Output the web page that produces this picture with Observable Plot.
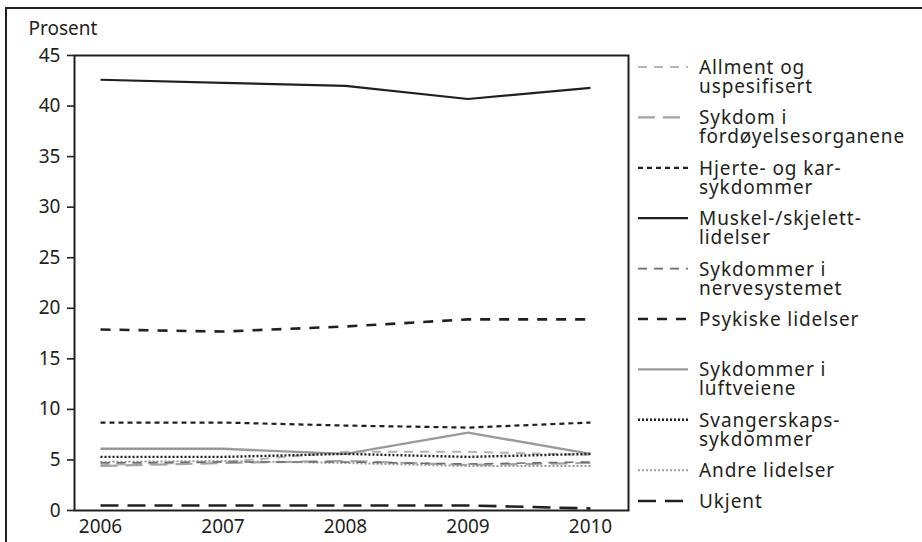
<!DOCTYPE html>
<html><head><meta charset="utf-8">
<script src="https://cdn.jsdelivr.net/npm/d3@7"></script>
<script src="https://cdn.jsdelivr.net/npm/@observablehq/plot@0.6"></script>
<style>
body{margin:0;background:#fff;}
#wrap{position:relative;width:922px;height:542px;overflow:hidden;font-family:"Noto Sans",sans-serif;}
#wrap svg{position:absolute;left:0;top:0;}
</style></head><body><div id="wrap"></div>
<script>
const years = [2006, 2007, 2008, 2009, 2010];
const yTicks = [0, 5, 10, 15, 20, 25, 30, 35, 40, 45];
const seriesNames = [
  "Allment og uspesifisert",
  "Sykdom i fordøyelsesorganene",
  "Hjerte- og kar-sykdommer",
  "Muskel-/skjelett-lidelser",
  "Sykdommer i nervesystemet",
  "Psykiske lidelser",
  "Sykdommer i luftveiene",
  "Svangerskaps-sykdommer",
  "Andre lidelser",
  "Ukjent"
];
const legendLabels = [
  ["Allment og", "uspesifisert"],
  ["Sykdom i", "fordøyelsesorganene"],
  ["Hjerte- og kar-", "sykdommer"],
  ["Muskel-/skjelett-", "lidelser"],
  ["Sykdommer i", "nervesystemet"],
  ["Psykiske lidelser"],
  ["Sykdommer i", "luftveiene"],
  ["Svangerskaps-", "sykdommer"],
  ["Andre lidelser"],
  ["Ukjent"]
];
const allment      = [4.5, 4.8, 5.8, 5.8, 5.5];
const fordoyelse   = [4.4, 4.7, 4.9, 4.5, 4.7];
const hjerte       = [8.7, 8.7, 8.4, 8.2, 8.7];
const muskel       = [42.6, 42.3, 42.0, 40.7, 41.8];
const nerve        = [4.7, 4.8, 4.8, 4.6, 4.8];
const psykiske     = [17.9, 17.7, 18.2, 18.9, 18.9];
const luftveiene   = [6.1, 6.1, 5.6, 7.7, 5.6];
const svangerskap  = [5.3, 5.3, 5.6, 5.3, 5.6];
const andre        = [4.8, 4.9, 4.7, 4.4, 4.4];
const ukjent       = [0.5, 0.5, 0.5, 0.5, 0.2];
const allValues = [allment, fordoyelse, hjerte, muskel, nerve, psykiske, luftveiene, svangerskap, andre, ukjent];

const INK = "#231f20";
const FS = 19;
const styles = [
  {stroke: "#b3b3b3", strokeWidth: 2, dash: "9,7"},
  {stroke: "#a3a3a3", strokeWidth: 2.2, dash: "17,8"},
  {stroke: INK, strokeWidth: 2.2, dash: "5,4"},
  {stroke: INK, strokeWidth: 2.2, dash: null},
  {stroke: "#6d6d6d", strokeWidth: 1.6, dash: "9,7"},
  {stroke: INK, strokeWidth: 2.6, dash: "10,9"},
  {stroke: "#9a9a9a", strokeWidth: 2.4, dash: null},
  {stroke: INK, strokeWidth: 2.4, dash: "2,2"},
  {stroke: "#9a9a9a", strokeWidth: 2, dash: "2,2"},
  {stroke: INK, strokeWidth: 2.6, dash: "18,9"}
];

const data = [];
seriesNames.forEach((name, i) => years.forEach((yr, j) => data.push({series: name, year: yr, value: allValues[i][j]})));

const drawOrder = [8, 0, 1, 4, 6, 7, 2, 5, 9, 3];
const lineMarks = drawOrder.map(i => Plot.line(data.filter(d => d.series === seriesNames[i]), {
  x: "year", y: "value",
  stroke: styles[i].stroke, strokeWidth: styles[i].strokeWidth,
  strokeDasharray: styles[i].dash, strokeLinecap: "butt", strokeLinejoin: "round"
}));

const chart = Plot.plot({
  width: 922, height: 542,
  marginLeft: 74, marginRight: 294, marginTop: 55, marginBottom: 32,
  style: {fontFamily: "Noto Sans, sans-serif", fontSize: FS + "px", color: INK, background: "transparent"},
  x: {domain: [2006, 2010], insetLeft: 26, insetRight: 38, label: null},
  y: {domain: [0, 45], label: null},
  marks: [
    Plot.frame({stroke: INK, strokeWidth: 2}),
    ...lineMarks,
    Plot.axisY({ticks: yTicks, tickSize: 7, tickPadding: 7, stroke: INK, strokeWidth: 1.6, label: null, fontSize: FS}),
    Plot.axisX({ticks: years, tickFormat: d => String(d), tickSize: 0, tickPadding: 9, label: null, fontSize: FS}),
    Plot.text(["Prosent"], {frameAnchor: "top-left", lineAnchor: "middle", dx: -46, dy: -27, textAnchor: "start", fill: INK, fontSize: FS})
  ]
});
document.getElementById("wrap").appendChild(chart);

// Legend + outer border overlay
const svg = d3.select("#wrap").append("svg").attr("width", 922).attr("height", 542)
  .style("font-family", "Noto Sans, sans-serif").style("pointer-events", "none");
svg.append("path").attr("d", "M6,542V8H922").attr("fill", "none").attr("stroke", INK).attr("stroke-width", 2);

const legendRowY = i => (i < 9 ? 67 + i * 50.4 : 501);
legendLabels.forEach((lines, i) => {
  const y = legendRowY(i);
  const s = styles[i];
  svg.append("line").attr("x1", 638).attr("x2", 688).attr("y1", y).attr("y2", y)
    .attr("stroke", s.stroke).attr("stroke-width", s.strokeWidth)
    .attr("stroke-dasharray", s.dash);
  lines.forEach((ln, k) => svg.append("text").attr("x", 699).attr("y", y + 7 + k * 19)
    .attr("fill", INK).attr("font-size", FS).attr("letter-spacing", 0.9).text(ln));
});
</script></body></html>
